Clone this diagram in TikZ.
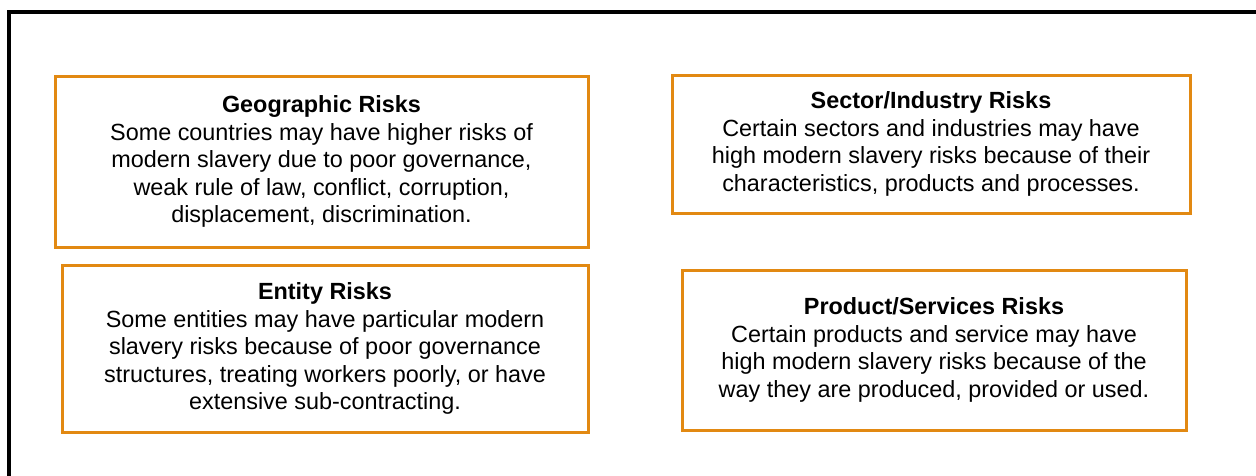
\documentclass[tikz,border=0pt]{standalone}
\usepackage{fontspec}
\setmainfont{Liberation Sans}
\usepackage{tikz}
\definecolor{boxorange}{RGB}{226,137,18}

\begin{document}
\begin{tikzpicture}[x=1pt,y=-1pt,
    riskbox/.style={draw=boxorange,line width=3pt,align=center,inner sep=0pt,
        font=\fontsize{23.4}{27.5}\selectfont}]
    \useasboundingbox (0,0) rectangle (1256,475);
    \draw[line width=4pt] (8.5,480) -- (8.5,12) -- (1260,12);

    \node[riskbox,minimum width=533,minimum height=171] (geo) at (321.5,161.5)
        {\textbf{Geographic Risks}\\Some countries may have higher risks of\\modern slavery due to poor governance,\\weak rule of law, conflict, corruption,\\displacement, discrimination.};
    \node[riskbox,minimum width=518,minimum height=138] (sector) at (931,144)
        {\textbf{Sector/Industry Risks}\\Certain sectors and industries may have\\high modern slavery risks because of their\\characteristics, products and processes.};
    \node[riskbox,minimum width=526,minimum height=167] (entity) at (325,348.5)
        {\textbf{Entity Risks}\\Some entities may have particular modern\\slavery risks because of poor governance\\structures, treating workers poorly, or have\\extensive sub-contracting.};
    \node[riskbox,minimum width=504,minimum height=160] (product) at (934,350)
        {\textbf{Product/Services Risks}\\Certain products and service may have\\high modern slavery risks because of the\\way they are produced, provided or used.};
\end{tikzpicture}
\end{document}
